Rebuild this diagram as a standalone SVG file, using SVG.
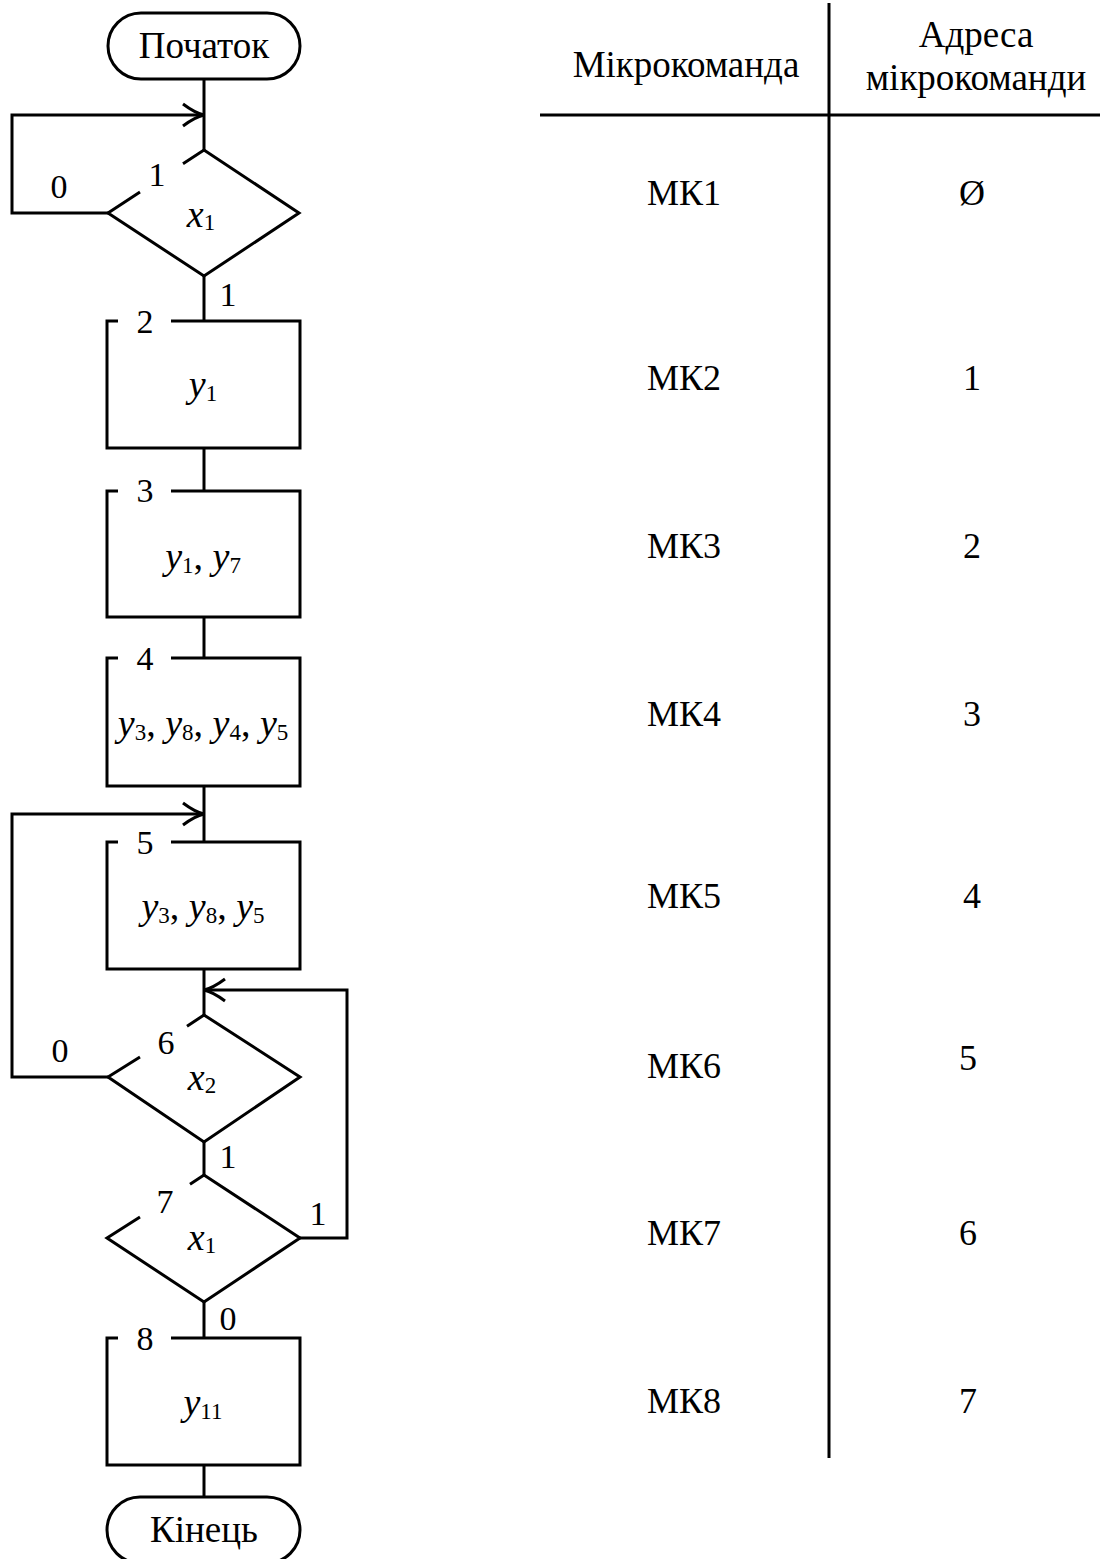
<svg xmlns="http://www.w3.org/2000/svg" width="1100" height="1559" viewBox="0 0 1100 1559">
<style>
.ln{fill:none;stroke:#000;stroke-width:3;stroke-linejoin:miter}
.sh{fill:#fff;stroke:#000;stroke-width:3;stroke-linejoin:miter}
text{font-family:"Liberation Serif","Times New Roman",serif;fill:#000}
.t{font-size:37px;text-anchor:middle}
.lb{font-size:34px;text-anchor:middle}
.v{font-size:38px;text-anchor:middle}
.i{font-style:italic}
.s{font-size:23px}
.tb{font-size:36px;text-anchor:middle}
</style>
<defs>
<marker id="ah" markerUnits="userSpaceOnUse" markerWidth="30" markerHeight="30" viewBox="-25 -15 30 30" refX="0" refY="0" orient="auto">
<path d="M-21,-11 Q-9,-2 0,0 Q-9,2 -21,11" fill="none" stroke="#000" stroke-width="3"/>
</marker>
</defs>
<rect width="1100" height="1559" fill="#fff"/>

<g id="connectors">
<path class="ln" d="M204,79 V150"/>
<path class="ln" d="M108,213 H12 V115 H204" marker-end="url(#ah)"/>
<path class="ln" d="M204,276 V321"/>
<path class="ln" d="M204,448 V491"/>
<path class="ln" d="M204,617 V658"/>
<path class="ln" d="M204,786 V842"/>
<path class="ln" d="M108,1077 H12 V814 H204" marker-end="url(#ah)"/>
<path class="ln" d="M204,969 V1015"/>
<path class="ln" d="M204,1142 V1175"/>
<path class="ln" d="M300,1238 H347 V990 H204" marker-end="url(#ah)"/>
<path class="ln" d="M204,1302 V1338"/>
<path class="ln" d="M204,1465 V1497"/>
<text class="lb" x="59" y="198">0</text>
<text class="lb" x="228" y="306">1</text>
<text class="lb" x="60" y="1062">0</text>
<text class="lb" x="228" y="1168">1</text>
<text class="lb" x="318" y="1225">1</text>
<text class="lb" x="228" y="1330">0</text>
</g>

<g id="start">
<rect class="sh" x="108" y="13" width="192" height="66" rx="33"/>
<text class="t" x="204" y="58">Початок</text>
</g>

<g id="n1">
<path class="ln" d="M183,163.8 L204,150 L299,213 L204,276 L108,213 L140,192"/>
<text class="lb" x="157" y="186">1</text>
<text class="v" x="201" y="227"><tspan class="i">x</tspan><tspan class="s" dy="3">1</tspan></text>
</g>

<g id="n2">
<path class="ln" d="M171,321 H300 V448 H107 V321 H118"/>
<text class="lb" x="145" y="333">2</text>
<text class="v" x="203" y="397"><tspan class="i">y</tspan><tspan class="s" dy="4">1</tspan></text>
</g>

<g id="n3">
<path class="ln" d="M171,491 H300 V617 H107 V491 H118"/>
<text class="lb" x="145" y="502">3</text>
<text class="v" x="203" y="569"><tspan class="i">y</tspan><tspan class="s" dy="4">1</tspan><tspan dy="-4">, </tspan><tspan class="i">y</tspan><tspan class="s" dy="4">7</tspan></text>
</g>

<g id="n4">
<path class="ln" d="M171,658 H300 V786 H107 V658 H118"/>
<text class="lb" x="145" y="670">4</text>
<text class="v" x="203" y="736"><tspan class="i">y</tspan><tspan class="s" dy="4">3</tspan><tspan dy="-4">, </tspan><tspan class="i">y</tspan><tspan class="s" dy="4">8</tspan><tspan dy="-4">, </tspan><tspan class="i">y</tspan><tspan class="s" dy="4">4</tspan><tspan dy="-4">, </tspan><tspan class="i">y</tspan><tspan class="s" dy="4">5</tspan></text>
</g>

<g id="n5">
<path class="ln" d="M171,842 H300 V969 H107 V842 H118"/>
<text class="lb" x="145" y="854">5</text>
<text class="v" x="203" y="919"><tspan class="i">y</tspan><tspan class="s" dy="4">3</tspan><tspan dy="-4">, </tspan><tspan class="i">y</tspan><tspan class="s" dy="4">8</tspan><tspan dy="-4">, </tspan><tspan class="i">y</tspan><tspan class="s" dy="4">5</tspan></text>
</g>

<g id="n6">
<path class="ln" d="M187,1026.2 L204,1015 L300,1077 L204,1142 L108,1077 L140,1057"/>
<text class="lb" x="166" y="1054">6</text>
<text class="v" x="202" y="1090"><tspan class="i">x</tspan><tspan class="s" dy="3">2</tspan></text>
</g>

<g id="n7">
<path class="ln" d="M190,1184.2 L204,1175 L300,1238 L204,1302 L107,1238 L140,1217"/>
<text class="lb" x="165" y="1213">7</text>
<text class="v" x="202" y="1250"><tspan class="i">x</tspan><tspan class="s" dy="3">1</tspan></text>
</g>

<g id="n8">
<path class="ln" d="M171,1338 H300 V1465 H107 V1338 H118"/>
<text class="lb" x="145" y="1350">8</text>
<text class="v" x="203" y="1415"><tspan class="i">y</tspan><tspan class="s" dy="4">11</tspan></text>
</g>

<g id="end">
<rect class="sh" x="107" y="1497" width="193" height="66" rx="33"/>
<text class="t" x="204" y="1542">Кінець</text>
</g>

<g id="table">
<path class="ln" d="M829,3 V1458"/>
<path class="ln" d="M540,115 H1100"/>
<text class="t" x="686" y="77">Мікрокоманда</text>
<text class="t" x="976" y="47">Адреса</text>
<text class="t" x="976" y="90">мікрокоманди</text>
<text class="tb" x="684" y="205">МК1</text>
<text class="tb" x="684" y="390">МК2</text>
<text class="tb" x="684" y="558">МК3</text>
<text class="tb" x="684" y="726">МК4</text>
<text class="tb" x="684" y="908">МК5</text>
<text class="tb" x="684" y="1078">МК6</text>
<text class="tb" x="684" y="1245">МК7</text>
<text class="tb" x="684" y="1413">МК8</text>
<text class="tb" x="972" y="205">Ø</text>
<text class="tb" x="972" y="390">1</text>
<text class="tb" x="972" y="558">2</text>
<text class="tb" x="972" y="726">3</text>
<text class="tb" x="972" y="908">4</text>
<text class="tb" x="968" y="1070">5</text>
<text class="tb" x="968" y="1245">6</text>
<text class="tb" x="968" y="1413">7</text>
</g>
</svg>
